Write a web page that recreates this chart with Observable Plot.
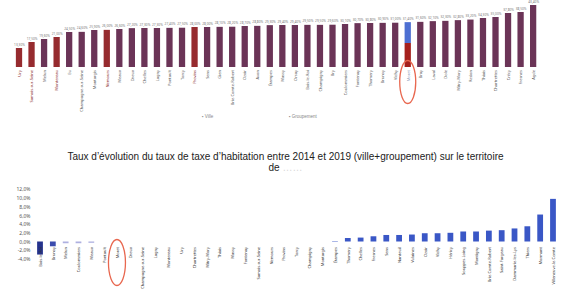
<!DOCTYPE html>
<html><head><meta charset="utf-8">
<script src="https://cdn.jsdelivr.net/npm/d3@7"></script>
<script src="https://cdn.jsdelivr.net/npm/@observablehq/plot@0.6"></script>
<style>
body{margin:0;background:#fff;width:571px;height:300px;overflow:hidden;position:relative;font-family:"Liberation Sans Narrow","Liberation Sans",sans-serif}
#top{position:absolute;left:0;top:0}
#legend span{position:absolute;top:114px;font-size:4.5px;color:#888;font-family:"Liberation Sans",sans-serif}
#title{position:absolute;left:0;top:151px;width:571px;text-align:center;font-size:10px;line-height:11px;color:#222}
#bottom{position:absolute;left:0;top:175px}
</style></head><body>
<div id="top"></div>
<div id="legend"><span style="left:202px">▪ Ville</span><span style="left:289px">▪ Groupement</span></div>
<div id="title">Taux d’évolution du taux de taxe d’habitation entre 2014 et 2019 (ville+groupement) sur le territoire<br>de <span style="color:#d8d8d8">……</span></div>
<div id="bottom"></div>
<script>
// ---- Top chart data: taux de taxe d'habitation (ville + groupement), %
const topCommunes = ["Ury","Samois-sur-Seine","Melun","Montereau","Eu","Champagne-sur-Seine","Montargis","Nemours","Meaux","Dreux","Chelles","Lagny","Pontault","Torcy","Provins","Sens","Gien","Brie-Comte-Robert","Ozoir","Avon","Étampes","Massy","Orsay","Bois-le-Roi","Champigny","Bry","Coulommiers","Fontenay","Thomery","Brunoy","Vichy","Moret","Bray","Laval","Dole","Mitry-Mory","Redon","Thiais","Chartrettes","Crécy","Fresnes","Agde"];
const topTaux = [13.3,17.5,19.6,21.0,24.5,24.6,25.9,26.0,26.6,27.2,27.3,27.3,27.4,27.5,28.0,28.0,28.1,28.2,28.7,28.8,29.3,29.4,29.4,29.5,29.5,29.6,30.1,30.7,30.8,30.9,31.0,31.4,31.6,32.1,32.3,32.8,33.2,34.3,35.0,37.8,38.5,43.4];
const redCommunes = ["Ury","Samois-sur-Seine","Montereau","Nemours","Provins"];
const highlightCommune = "Moret";
const highlightParts = ["Ville","Groupement"];
const highlightValues = [16.8,14.6];

// ---- Bottom chart data: taux d'évolution 2014-2019, %
const bottomCommunes = ["Bois-le-Roi","Brunoy","Melun","Coulommiers","Meaux","Pontault","Moret","Dreux","Champagne-sur-Seine","Lagny","Montereau","Ury","Chartrettes","Mitry-Mory","Thiais","Massy","Fontenay","Samois-sur-Seine","Nemours","Provins","Torcy","Champigny","Montargis","Étampes","Thomery","Chelles","Fresnes","Sens","Nanteuil","Vulaines","Ozoir","Vichy","Héricy","Souppes-Loing","Montigny","Brie-Comte-Robert","Saint-Fargeau","Dammarie-les-Lys","Thiers","Mormant","Villeneuve-le-Comte"];
const bottomEvol = [-3.0,-1.1,-0.4,-0.4,-0.3,0,0,0,0,0,0,0,0,0,0,0,0,0,0,0,0,0,0,0.1,0.8,0.9,1.2,1.5,1.5,1.6,1.9,1.9,2.0,2.3,2.3,2.5,2.6,3.0,3.5,6.2,9.8];
const yTicks = [-4,-2,0,2,4,6,8,10,12];

const pct = (v, n) => v.toFixed(n).replace(".", ",") + "%";

// ---------- top chart
const topData = topCommunes.map((c, i) => ({commune: c, taux: topTaux[i], rouge: redCommunes.includes(c)}));
const hlData = highlightParts.map((p, i) => ({commune: highlightCommune, part: p, v: highlightValues[i]}));
const topPlot = Plot.plot({
  width: 571, height: 130, margin: 0,
  style: {background: "transparent"},
  x: {type: "band", domain: topCommunes, range: [12.73, 539.4], paddingInner: 0.5, paddingOuter: 0.25, round: false, axis: null},
  y: {domain: [0, 43.4], range: [67, 5], axis: null},
  marks: [
    Plot.barY(topData.filter(d => d.commune !== highlightCommune), {x: "commune", y: "taux", fill: d => d.rouge ? "#962b2f" : "#6b3457"}),
    Plot.barY(hlData, {x: "commune", y: "v", fill: d => d.part === "Ville" ? "#a5201d" : "#4d6fd2"}),
    Plot.text(topData, {x: "commune", y: "taux", text: d => pct(d.taux, 2), dy: -4, fontSize: 3.2, fill: "#777"}),
    Plot.text(topData, {x: "commune", y: 0, text: "commune", rotate: -90, textAnchor: "end", dy: 2.5, fontSize: 4,
      fill: d => d.commune === highlightCommune ? "#8a9ab8" : d.rouge ? "#8a2a2a" : "#555"})
  ]
});
document.getElementById("top").append(topPlot);
{
  const xs = topPlot.scale("x"), ys = topPlot.scale("y");
  d3.select(topPlot).append("ellipse")
    .attr("cx", xs.apply(highlightCommune) + xs.bandwidth / 2)
    .attr("cy", ys.apply(0) + 15).attr("rx", 8).attr("ry", 21.5)
    .attr("fill", "none").attr("stroke", "#e8674f").attr("stroke-width", 1.3);
}

// ---------- bottom chart
const bottomData = bottomCommunes.map((c, i) => ({commune: c, evol: bottomEvol[i]}));
const bottomPlot = Plot.plot({
  width: 571, height: 125, marginLeft: 34, marginRight: 11, marginTop: 0, marginBottom: 0,
  style: {fontSize: "5px", color: "#555", background: "transparent"},
  x: {type: "band", domain: bottomCommunes, range: [33.6, 559.4], paddingInner: 0.55, paddingOuter: 0.275, round: false, axis: null},
  y: {domain: [-4, 12], range: [83.9, 14.3], ticks: yTicks, tickSize: 0, tickPadding: 4, tickFormat: d => pct(d, 1), label: null},
  marks: [
    Plot.barY(bottomData, {x: "commune", y: "evol",
      fill: d => d.evol <= -2 ? "#25338e" : d.evol <= -1 ? "#3b4cae" : d.evol < 0 ? "#aeb0e0" : "#3a57c6"}),
    Plot.text(bottomData, {x: "commune", y: 0, text: "commune", rotate: -90, textAnchor: "end", dy: 5, fontSize: 4, fill: "#333"})
  ]
});
document.getElementById("bottom").append(bottomPlot);
{
  const xs = bottomPlot.scale("x"), ys = bottomPlot.scale("y");
  d3.select(bottomPlot).append("ellipse")
    .attr("cx", xs.apply(highlightCommune) + xs.bandwidth / 2)
    .attr("cy", ys.apply(0) + 21).attr("rx", 8.5).attr("ry", 23)
    .attr("fill", "none").attr("stroke", "#e8674f").attr("stroke-width", 1.3);
}
</script>
</body></html>
